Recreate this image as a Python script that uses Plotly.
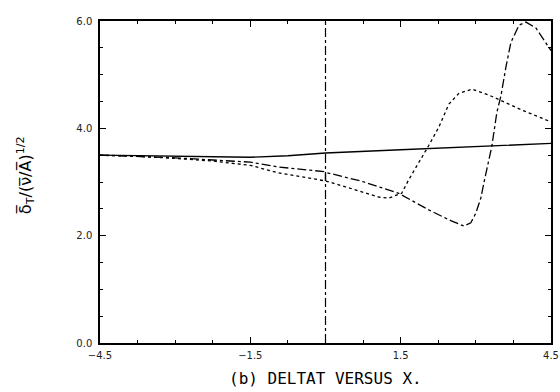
import plotly.graph_objects as go

# Data
solid_x = [-4.5, -3.0, -1.5, -0.75, 0.0, 1.5, 3.0, 4.5]
solid_y = [3.50, 3.48, 3.46, 3.49, 3.54, 3.60, 3.66, 3.72]

dot_x = [-4.5, -3.75, -3.0, -2.25, -1.5, -0.94, -0.5, 0.0, 0.4, 0.7, 1.06, 1.26,
         1.52, 1.66, 1.86, 2.06, 2.26, 2.46, 2.66, 2.92, 3.26, 3.5, 3.92, 4.5]
dot_y = [3.50, 3.48, 3.44, 3.39, 3.31, 3.17, 3.10, 3.02, 2.91, 2.82, 2.72, 2.70,
         2.79, 3.04, 3.35, 3.68, 4.02, 4.45, 4.65, 4.73, 4.62, 4.52, 4.34, 4.12]

dash_x = [-4.5, -3.75, -3.0, -2.25, -1.5, -0.94, -0.1, 0.0, 0.0, 0.0, 0.7, 1.46,
          2.06, 2.5, 2.76, 2.9, 3.0, 3.1, 3.16, 3.26, 3.32, 3.42, 3.5, 3.6, 3.7,
          3.86, 4.0, 4.2, 4.4, 4.5]
dash_y = [3.50, 3.48, 3.45, 3.41, 3.37, 3.28, 3.19, 3.19, 3.02, 3.18, 3.02, 2.79,
          2.48, 2.28, 2.18, 2.24, 2.42, 2.70, 2.98, 3.45, 3.67, 4.30, 4.60, 5.14,
          5.60, 5.92, 5.98, 5.87, 5.58, 5.45]

vline_x = [0.0, 0.0]
vline_y = [0.0, 6.0]

x_ticks = [-4.5, -1.5, 1.5, 4.5]
x_ticklabels = ["\u22124.5", "\u22121.5", "1.5", "4.5"]
y_ticks = [0.0, 2.0, 4.0, 6.0]
y_ticklabels = ["0.0", "2.0", "4.0", "6.0"]

fig = go.Figure()
fig.add_trace(go.Scatter(x=solid_x, y=solid_y, mode="lines",
                         line=dict(color="black", width=1.4)))
fig.add_trace(go.Scatter(x=dot_x, y=dot_y, mode="lines",
                         line=dict(color="black", width=1.3, dash="dot")))
fig.add_trace(go.Scatter(x=dash_x, y=dash_y, mode="lines",
                         line=dict(color="black", width=1.3, dash="dashdot")))
fig.add_trace(go.Scatter(x=vline_x, y=vline_y, mode="lines",
                         line=dict(color="black", width=1.2, dash="dashdot")))

axis_common = dict(
    showline=True, linecolor="black", linewidth=1.5, mirror="allticks",
    ticks="inside", ticklen=6, tickwidth=1, tickcolor="black",
    showgrid=False, zeroline=False, automargin=False,
    tickfont=dict(family="DejaVu Sans", size=10, color="#222"),
)

fig.update_xaxes(range=[-4.5, 4.5], tickvals=x_ticks, ticktext=x_ticklabels,
                 minor=dict(dtick=0.75, tick0=-4.5, ticks="inside", ticklen=3,
                            tickcolor="black", showgrid=False),
                 ticklabelstandoff=2, **axis_common)
fig.update_yaxes(range=[0, 6], tickvals=y_ticks, ticktext=y_ticklabels,
                 minor=dict(dtick=0.5, tick0=0, ticks="inside", ticklen=3,
                            tickcolor="black", showgrid=False),
                 ticklabelstandoff=4, **axis_common)

fig.update_layout(
    width=560, height=392,
    margin=dict(l=100, r=9, t=21, b=49),
    plot_bgcolor="white", paper_bgcolor="white",
    showlegend=False,
    font=dict(family="DejaVu Sans", color="black"),
    annotations=[
        dict(text="(b) DELTAT VERSUS X.", xref="paper", yref="paper",
             x=0.5, y=-0.075, xanchor="center", yanchor="top", showarrow=False,
             font=dict(family="DejaVu Sans Mono", size=16, color="black")),
        dict(text="\u03b4\u0305<sub>T</sub>/(\u03bd\u0305/A\u0305)<sup>1/2</sup>",
             xref="paper", yref="paper", x=-0.165, y=0.52, textangle=-90,
             xanchor="center", yanchor="middle", showarrow=False,
             font=dict(family="DejaVu Sans", size=16, color="black")),
    ],
)

fig.write_html("out.html")
